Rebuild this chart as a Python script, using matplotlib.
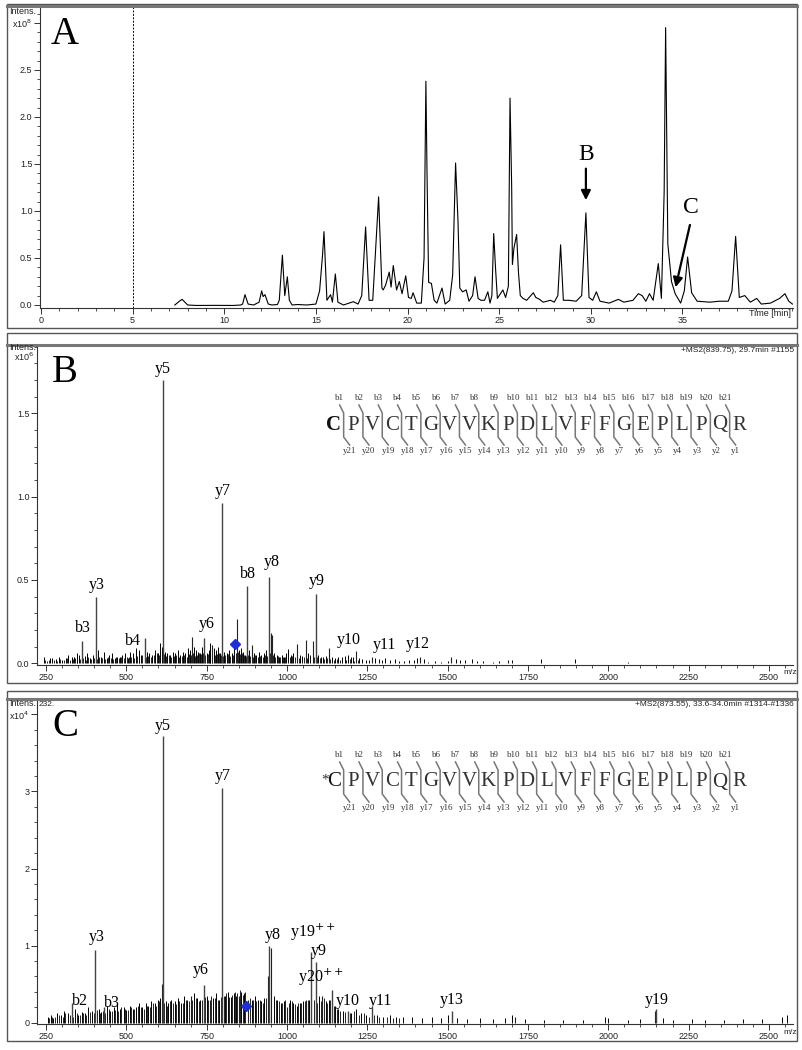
import matplotlib
matplotlib.use('Agg')
import matplotlib.pyplot as plt
from matplotlib.lines import Line2D
from matplotlib.patches import Rectangle
from matplotlib.ticker import MultipleLocator, FixedLocator

# ---------------- DATA ----------------
# Panel A: base peak chromatogram (time in min, intensity x1e8)
chrom_time = [7.30, 7.55, 7.70, 7.85, 8.00, 8.5, 9.5, 10.5, 10.9, 11.0, 11.13, 11.3, 11.6, 11.9,
              12.04, 12.12, 12.22, 12.4, 12.6, 12.9, 13.0, 13.17, 13.3, 13.44, 13.55, 13.7, 14.0,
              14.5, 15.0, 15.2, 15.36, 15.44, 15.6, 15.8, 15.9, 16.06, 16.2, 16.5, 17.04, 17.3,
              17.5, 17.71, 17.9, 18.1, 18.42, 18.6, 18.67, 18.8, 19.0, 19.1, 19.22, 19.4, 19.55,
              19.7, 19.9, 20.05, 20.2, 20.3, 20.5, 20.75, 20.9, 21.0, 21.06, 21.15, 21.3, 21.45,
              21.6, 21.88, 22.05, 22.3, 22.46, 22.62, 22.75, 22.85, 23.0, 23.2, 23.35, 23.55,
              23.68, 23.85, 24.0, 24.2, 24.38, 24.5, 24.6, 24.7, 24.8, 24.9, 25.2, 25.35, 25.5,
              25.59, 25.68, 25.72, 25.8, 25.95, 26.05, 26.15, 26.3, 26.5, 26.86, 27.0, 27.2, 27.4,
              27.8, 28.0, 28.2, 28.35, 28.5, 28.8, 29.2, 29.5, 29.73, 29.9, 30.1, 30.3, 30.5, 31.0,
              31.5, 31.8, 32.3, 32.59, 32.8, 33.0, 33.2, 33.4, 33.68, 33.85, 34.0, 34.08, 34.2,
              34.4, 34.6, 34.9, 35.1, 35.28, 35.5, 35.8, 36.5, 37.0, 37.5, 37.7, 37.9, 38.1, 38.4,
              38.7, 39.05, 39.3, 39.8, 40.3, 40.59, 40.8, 41.0]
chrom_int = [0.0, 0.04, 0.06, 0.03, 0.0, -0.005, -0.004, -0.005, 0.0, 0.01, 0.11, 0.01, 0.0, 0.03,
             0.15, 0.09, 0.11, 0.01, 0.0, 0.005, 0.05, 0.53, 0.10, 0.30, 0.05, 0.0, 0.005,
             0.0, 0.01, 0.15, 0.53, 0.78, 0.05, 0.11, 0.03, 0.33, 0.03, 0.0, 0.035, 0.01,
             0.10, 0.83, 0.05, 0.05, 1.15, 0.18, 0.16, 0.21, 0.35, 0.19, 0.42, 0.16, 0.25,
             0.12, 0.31, 0.08, 0.07, 0.13, 0.02, 0.02, 0.50, 2.38, 1.42, 0.24, 0.23, 0.05,
             0.02, 0.18, 0.01, 0.05, 0.32, 1.51, 0.90, 0.18, 0.14, 0.16, 0.04, 0.10,
             0.30, 0.07, 0.05, 0.05, 0.14, 0.02, 0.10, 0.76, 0.39, 0.07, 0.16, 0.08, 0.20,
             2.20, 1.26, 0.43, 0.60, 0.75, 0.35, 0.10, 0.07, 0.05, 0.13, 0.08, 0.06, 0.03,
             0.05, 0.03, 0.10, 0.64, 0.05, 0.05, 0.04, 0.10, 0.98, 0.08, 0.05, 0.14, 0.04, 0.02,
             0.06, 0.03, 0.05, 0.12, 0.10, 0.04, 0.12, 0.05, 0.44, 0.07, 1.20, 2.95, 0.65,
             0.25, 0.12, 0.02, 0.15, 0.51, 0.13, 0.04, 0.03, 0.04, 0.04, 0.15, 0.73, 0.08, 0.10,
             0.03, 0.07, 0.01, 0.02, 0.07, 0.12, 0.04, 0.01]
time_ticks = [0, 5, 10, 15, 20, 25, 30, 35]
chrom_yticks = [0.0, 0.5, 1.0, 1.5, 2.0, 2.5, 3.0]
chrom_ylabels = ['0.0', '0.5', '1.0', '1.5', '2.0', '2.5', 'x10$^{8}$']

# Panel B: MS2 of 839.75 (m/z, intensity x1e6)
b_lab_mz = [615, 798, 875.6, 944, 1090, 404.6, 362, 557, 742]
b_lab_int = [1.70, 0.96, 0.464, 0.52, 0.416, 0.396, 0.134, 0.154, 0.154]
b_other_mz = [844.5, 954, 950, 703, 891, 767, 1032, 1059, 1080, 1130, 1215, 1265, 1414, 1512, 1689]
b_other_int = [0.264, 0.17, 0.18, 0.16, 0.11, 0.11, 0.115, 0.14, 0.135, 0.09, 0.075, 0.04, 0.035, 0.04, 0.02]
b_noise_mz = [243, 262, 268, 281, 290, 300, 312, 320, 330, 338,
              345, 352, 370, 378, 386, 395, 412, 420, 430, 440,
              447, 455, 465, 472, 480, 488, 497, 505, 512, 520,
              530, 538, 545, 565, 572, 580, 590, 598, 606, 611,
              620, 628, 636, 645, 652, 660, 668, 676, 684, 692,
              698, 710, 716, 724, 730, 736, 750, 756, 762, 772,
              780, 786, 792, 805, 812, 820, 828, 836, 850, 856,
              862, 868, 882, 898, 905, 912, 920, 928, 935, 960,
              968, 975, 983, 990, 998, 1004, 1012, 1020, 1040, 1047,
              1066, 1072, 1098, 1105, 1112, 1120, 1140, 1150, 1160, 1172,
              1180, 1190, 1198, 1205, 1225, 1235, 1245, 1255, 1275, 1285,
              1295, 1305, 1320, 1335, 1350, 1365, 1380, 1395, 1405, 1425,
              1440, 1460, 1480, 1500, 1525, 1540, 1555, 1575, 1590, 1610,
              1640, 1660, 1700, 1790, 1895, 2060]
b_noise_int = [0.035, 0.03, 0.03, 0.025, 0.04, 0.02, 0.03, 0.05, 0.04, 0.035,
               0.06, 0.05, 0.045, 0.06, 0.03, 0.05, 0.08, 0.04, 0.065, 0.03,
               0.05, 0.06, 0.03, 0.04, 0.035, 0.05, 0.06, 0.03, 0.07, 0.06,
               0.09, 0.08, 0.05, 0.07, 0.06, 0.05, 0.08, 0.06, 0.12, 0.10,
               0.07, 0.06, 0.05, 0.07, 0.06, 0.08, 0.05, 0.07, 0.06, 0.09,
               0.08, 0.10, 0.08, 0.07, 0.06, 0.10, 0.06, 0.08, 0.12, 0.09,
               0.08, 0.10, 0.06, 0.07, 0.06, 0.08, 0.06, 0.09, 0.08, 0.09,
               0.07, 0.05, 0.08, 0.06, 0.05, 0.07, 0.05, 0.06, 0.08, 0.06,
               0.05, 0.04, 0.05, 0.04, 0.06, 0.085, 0.05, 0.06, 0.05, 0.045,
               0.06, 0.05, 0.05, 0.04, 0.035, 0.045, 0.04, 0.03, 0.035, 0.04,
               0.045, 0.05, 0.04, 0.035, 0.03, 0.025, 0.02, 0.02, 0.03, 0.025,
               0.02, 0.03, 0.02, 0.025, 0.015, 0.015, 0.02, 0.02, 0.03, 0.025,
               0.01, 0.015, 0.01, 0.012, 0.025, 0.02, 0.02, 0.025, 0.015, 0.012,
               0.01, 0.015, 0.02, 0.025, 0.025, 0.008]
b_fine_mz = [248, 252, 258, 275, 285, 295, 305, 316, 325, 334,
             341, 348, 356, 366, 374, 382, 390, 400, 408, 416,
             425, 435, 444, 451, 460, 468, 476, 484, 492, 501,
             508, 516, 525, 534, 541, 550, 561, 569, 576, 585,
             594, 602, 618, 624, 632, 640, 648, 656, 664, 672,
             680, 688, 695, 702, 706, 713, 720, 727, 733, 740,
             746, 753, 759, 766, 776, 783, 789, 795, 802, 808,
             816, 824, 832, 840, 847, 853, 859, 865, 872, 879,
             886, 895, 902, 909, 916, 924, 931, 939, 947, 957,
             964, 972, 979, 987, 995, 1008, 1016, 1025, 1036, 1052,
             1062, 1085, 1094, 1102, 1116, 1126, 1135, 1145, 1155, 1166,
             1185, 1195, 1210, 1220]
b_fine_int = [0.02, 0.015, 0.02, 0.02, 0.015, 0.025, 0.02, 0.03, 0.02, 0.025,
              0.03, 0.02, 0.025, 0.03, 0.02, 0.035, 0.025, 0.03, 0.025, 0.04,
              0.03, 0.025, 0.035, 0.03, 0.025, 0.04, 0.03, 0.035, 0.03, 0.04,
              0.035, 0.04, 0.03, 0.045, 0.04, 0.05, 0.035, 0.045, 0.04, 0.05,
              0.06, 0.05, 0.055, 0.045, 0.05, 0.04, 0.045, 0.05, 0.04, 0.045,
              0.05, 0.04, 0.055, 0.05, 0.06, 0.045, 0.05, 0.06, 0.055, 0.06,
              0.05, 0.055, 0.06, 0.07, 0.05, 0.055, 0.06, 0.05, 0.045, 0.05,
              0.055, 0.045, 0.05, 0.06, 0.07, 0.055, 0.06, 0.05, 0.045, 0.05,
              0.045, 0.04, 0.05, 0.04, 0.045, 0.04, 0.05, 0.045, 0.06, 0.05,
              0.04, 0.045, 0.035, 0.04, 0.035, 0.04, 0.045, 0.035, 0.03, 0.035,
              0.03, 0.035, 0.04, 0.03, 0.025, 0.03, 0.025, 0.02, 0.025, 0.02,
              0.02, 0.025, 0.015, 0.02]
b_labels = ['y5', 'y7', 'b8', 'y8', 'y9', 'y3', 'b3', 'b4', 'y6', 'y10', 'y11', 'y12']
b_label_mz = [615, 800, 880, 952, 1094, 408, 364, 522, 750, 1191, 1305, 1406]
b_label_int = [1.765, 1.035, 0.535, 0.605, 0.495, 0.469, 0.21, 0.136, 0.234, 0.14, 0.11, 0.114]
b_prec_mz = 839.75
b_prec_int = 0.114

# Panel C: MS2 of 873.55 (m/z, intensity x1e4)
c_lab_mz = [615, 798, 404, 945, 742, 1076, 1090, 1140, 330, 430, 1190, 1265, 1515, 2150]
c_lab_int = [3.72, 3.05, 0.94, 1.00, 0.49, 0.92, 0.79, 0.43, 0.25, 0.20, 0.15, 0.20, 0.15, 0.18]
c_other_mz = [950, 940, 610, 700, 760, 850, 880, 1000, 1060, 1110, 2145, 1710]
c_other_int = [0.97, 0.60, 0.50, 0.35, 0.30, 0.35, 0.30, 0.20, 0.30, 0.35, 0.15, 0.08]
c_noise_mz = [255, 265, 272, 285, 298, 305, 318, 340, 350, 362,
              372, 380, 392, 415, 422, 440, 450, 462, 470, 480,
              492, 500, 510, 520, 530, 540, 550, 560, 568, 578,
              588, 598, 605, 622, 630, 640, 650, 660, 670, 680,
              690, 712, 720, 730, 750, 770, 780, 790, 806, 815,
              825, 835, 842, 858, 866, 890, 900, 910, 920, 930,
              960, 970, 980, 990, 1010, 1020, 1030, 1040, 1050, 1068,
              1100, 1120, 1130, 1150, 1160, 1175, 1200, 1215, 1230, 1245,
              1280, 1300, 1320, 1340, 1360, 1390, 1420, 1450, 1480, 1500,
              1530, 1560, 1600, 1640, 1680, 1700, 1740, 1800, 1860, 1920,
              1990, 2000, 2060, 2100, 2170, 2200, 2260, 2300, 2360, 2420,
              2480, 2540, 2555]
c_noise_int = [0.08, 0.10, 0.06, 0.12, 0.10, 0.15, 0.12, 0.18, 0.10, 0.14,
               0.12, 0.20, 0.15, 0.18, 0.14, 0.22, 0.15, 0.20, 0.25, 0.18,
               0.20, 0.16, 0.22, 0.18, 0.20, 0.25, 0.20, 0.25, 0.22, 0.28,
               0.25, 0.30, 0.32, 0.28, 0.25, 0.30, 0.28, 0.32, 0.25, 0.35,
               0.30, 0.38, 0.32, 0.30, 0.35, 0.32, 0.38, 0.30, 0.35, 0.40,
               0.33, 0.38, 0.35, 0.40, 0.38, 0.30, 0.35, 0.30, 0.28, 0.32,
               0.35, 0.30, 0.25, 0.28, 0.30, 0.25, 0.22, 0.25, 0.28, 0.30,
               0.35, 0.28, 0.30, 0.22, 0.18, 0.15, 0.12, 0.18, 0.12, 0.10,
               0.10, 0.08, 0.10, 0.08, 0.07, 0.08, 0.06, 0.07, 0.06, 0.10,
               0.06, 0.05, 0.06, 0.05, 0.06, 0.10, 0.05, 0.04, 0.04, 0.04,
               0.08, 0.06, 0.04, 0.05, 0.06, 0.04, 0.05, 0.04, 0.04, 0.05,
               0.05, 0.08, 0.10]
c_fine_mz = [260, 268, 278, 290, 302, 310, 325, 335, 345, 356,
             366, 376, 386, 398, 410, 418, 426, 435, 445, 455,
             466, 475, 485, 496, 505, 515, 525, 535, 545, 555,
             564, 573, 583, 593, 602, 618, 626, 635, 645, 655,
             665, 675, 685, 695, 705, 716, 725, 735, 746, 755,
             765, 775, 785, 795, 803, 811, 820, 830, 839, 846,
             854, 862, 870, 885, 895, 905, 915, 925, 935, 965,
             975, 985, 995, 1005, 1015, 1025, 1035, 1045, 1055, 1065,
             1085, 1095, 1105, 1115, 1125, 1135, 1145, 1155, 1165, 1180,
             1195, 1210, 1225, 1240, 1255, 1270, 1285, 1310, 1330, 1350]
c_fine_int = [0.06, 0.08, 0.07, 0.10, 0.08, 0.12, 0.10, 0.08, 0.12, 0.10,
              0.12, 0.10, 0.14, 0.12, 0.16, 0.12, 0.15, 0.13, 0.18, 0.15,
              0.17, 0.15, 0.20, 0.18, 0.16, 0.20, 0.18, 0.22, 0.20, 0.18,
              0.22, 0.20, 0.25, 0.22, 0.28, 0.25, 0.22, 0.28, 0.26, 0.24,
              0.28, 0.25, 0.30, 0.28, 0.30, 0.32, 0.28, 0.30, 0.33, 0.30,
              0.35, 0.32, 0.30, 0.33, 0.35, 0.38, 0.33, 0.36, 0.40, 0.38,
              0.42, 0.36, 0.40, 0.32, 0.30, 0.28, 0.30, 0.26, 0.32, 0.30,
              0.28, 0.25, 0.30, 0.26, 0.28, 0.24, 0.26, 0.25, 0.28, 0.30,
              0.30, 0.26, 0.28, 0.32, 0.25, 0.30, 0.22, 0.18, 0.15, 0.14,
              0.12, 0.15, 0.10, 0.12, 0.08, 0.10, 0.08, 0.07, 0.06, 0.06]
c_labels = ['y5', 'y7', 'y3', 'y8', 'y6', 'y19$^{++}$', 'y9', 'y20$^{++}$', 'b2', 'b3',
            'y10', 'y11', 'y13', 'y19']
c_label_mz = [615, 800, 408, 955, 732, 1080, 1100, 1105, 355, 455, 1190, 1292, 1512, 2150]
c_label_int = [3.85, 3.20, 1.11, 1.14, 0.68, 1.17, 0.93, 0.59, 0.28, 0.25, 0.28, 0.28, 0.30, 0.29]
c_prec_mz = 873.55
c_prec_int = 0.22

mz_ticks = [250, 500, 750, 1000, 1250, 1500, 1750, 2000, 2250, 2500]

residues = ['C', 'P', 'V', 'C', 'T', 'G', 'V', 'V', 'K', 'P', 'D',
            'L', 'V', 'F', 'F', 'G', 'E', 'P', 'L', 'P', 'Q', 'R']

# ---------------- LAYOUT ----------------
W, H = 803, 1050
fig = plt.figure(figsize=(W / 100, H / 100), dpi=100)
SANS = ['Liberation Sans', 'DejaVu Sans']
SERIF = ['Liberation Serif', 'DejaVu Serif']
TC = '#333333'


def fx(x):
    return x / W


def fy(y):
    return 1 - y / H


def axes_px(l, t, r, b):
    return fig.add_axes([l / W, 1 - b / H, (r - l) / W, (b - t) / H])


def style(ax):
    for s in ['top', 'right']:
        ax.spines[s].set_visible(False)
    for s in ['left', 'bottom']:
        ax.spines[s].set_color(TC)
        ax.spines[s].set_linewidth(0.8)
    ax.tick_params(which='major', direction='out', length=4, width=0.7, color=TC,
                   labelsize=6.5, labelcolor='#222222', pad=1.5)
    ax.tick_params(which='minor', direction='out', length=2.5, width=0.6, color=TC)
    for lab in ax.get_xticklabels() + ax.get_yticklabels():
        lab.set_family(SANS)
    ax.patch.set_alpha(0)


def frame(top, bottom, bar_y):
    fig.add_artist(Rectangle((fx(7), fy(bottom)), fx(797) - fx(7), fy(top) - fy(bottom),
                             transform=fig.transFigure, fill=False, edgecolor='#555555', lw=1.0))
    fig.add_artist(Line2D([fx(7), fx(797)], [fy(bar_y), fy(bar_y)], transform=fig.transFigure,
                          color='#777777', lw=2.2))


frame(4, 328, 5.5)
frame(333, 683, 345)
frame(691, 1041, 699)

# ---- Panel A ----
axA = axes_px(40, 6, 793, 308)
axA.plot(chrom_time, chrom_int, color='black', lw=0.8)
axA.set_xlim(-0.055, 41.03)
axA.set_ylim(-0.032, 3.18)
axA.axvline(5, color='black', lw=0.7, ls=(0, (2, 1.5)))
axA.xaxis.set_major_locator(FixedLocator(time_ticks))
axA.xaxis.set_minor_locator(MultipleLocator(1))
axA.yaxis.set_major_locator(FixedLocator(chrom_yticks))
axA.set_yticklabels(chrom_ylabels)
axA.yaxis.set_minor_locator(MultipleLocator(0.1))
style(axA)
axA.annotate('', xy=(29.73, 1.085), xytext=(29.73, 1.48),
             arrowprops=dict(arrowstyle='-|>', color='black', lw=1.6, mutation_scale=14))
axA.text(29.73, 1.60, 'B', ha='center', va='center', fontsize=17, family=SERIF)
axA.annotate('', xy=(34.59, 0.16), xytext=(35.44, 0.88),
             arrowprops=dict(arrowstyle='-|>', color='black', lw=1.6, mutation_scale=14))
axA.text(35.44, 1.04, 'C', ha='center', va='center', fontsize=17, family=SERIF)
fig.text(fx(791), fy(314), 'Time [min]', ha='right', va='center', fontsize=6.5, family=SANS, color='#222222')
fig.text(fx(36), fy(12), 'Intens.', ha='right', va='center', fontsize=6.5, family=SANS, color='#222222')
fig.text(fx(65), fy(35), 'A', ha='center', va='center', fontsize=28, family=SERIF)


def spectrum(ax, lab_mz, lab_int, oth_mz, oth_int, noi_mz, noi_int, fine_mz, fine_int):
    ax.vlines(fine_mz, 0, fine_int, color='black', lw=0.6)
    ax.vlines(noi_mz, 0, noi_int, color='black', lw=0.7)
    ax.vlines(oth_mz, 0, oth_int, color='#222222', lw=0.8)
    ax.vlines(lab_mz, 0, lab_int, color='#444444', lw=1.0)


def sequence(yl, first_star):
    x0, dx = 334.0, 19.3
    for i, r in enumerate(residues):
        fig.text(fx(x0 + i * dx), fy(yl), r, ha='center', va='center', fontsize=15,
                 family=SERIF, color='#111111' if i == 0 else '#333333',
                 fontweight='bold' if (i == 0 and not first_star) else 'normal')
    if first_star:
        fig.text(fx(x0 - 9), fy(yl - 2), '*', ha='center', va='center', fontsize=11,
                 family=SERIF, color='#333333')
    for i in range(21):
        xs = x0 + (i + 0.5) * dx
        fig.add_artist(Line2D([fx(xs - 4), fx(xs), fx(xs), fx(xs + 6)],
                              [fy(yl - 20), fy(yl - 12), fy(yl + 12), fy(yl + 20)],
                              transform=fig.transFigure, color='#777777', lw=1.1))
        fig.text(fx(xs - 4), fy(yl - 27), 'b%d' % (i + 1), ha='center', va='center',
                 fontsize=6.5, family=SERIF, color='#333333')
        fig.text(fx(xs + 6), fy(yl + 26), 'y%d' % (21 - i), ha='center', va='center',
                 fontsize=6.5, family=SERIF, color='#333333')


# ---- Panel B ----
axB = axes_px(37, 345, 793, 665)
spectrum(axB, b_lab_mz, b_lab_int, b_other_mz, b_other_int, b_noise_mz, b_noise_int,
         b_fine_mz, b_fine_int)
axB.plot([b_prec_mz], [b_prec_int], marker='D', color='#1f2fd0', ms=5, ls='none')
axB.set_xlim(222, 2575)
axB.set_ylim(-0.01, 1.91)
axB.xaxis.set_major_locator(FixedLocator(mz_ticks))
axB.xaxis.set_minor_locator(MultipleLocator(50))
axB.yaxis.set_major_locator(FixedLocator([0.0, 0.5, 1.0, 1.5]))
axB.set_yticklabels(['0.0', '0.5', '1.0', '1.5'])
axB.yaxis.set_minor_locator(MultipleLocator(0.1))
style(axB)
for t, m, v in zip(b_labels, b_label_mz, b_label_int):
    axB.text(m, v, t, ha='center', va='center', fontsize=11.5, family=SERIF)
fig.text(fx(783), fy(673), 'm/z', ha='left', va='center', fontsize=6, family=SANS, color='#222222')
fig.text(fx(36), fy(347), 'Intens.', ha='right', va='center', fontsize=6.5, family=SANS, color='#222222')
fig.text(fx(34), fy(357), 'x10$^{6}$', ha='right', va='center', fontsize=6.5, family=SANS, color='#222222')
fig.text(fx(794), fy(351), '+MS2(839.75), 29.7min #1155', ha='right', va='center', fontsize=6,
         family=SANS, color='#222222')
fig.text(fx(65), fy(373), 'B', ha='center', va='center', fontsize=28, family=SERIF)
sequence(425, False)

# ---- Panel C ----
axC = axes_px(37, 699, 793, 1024)
spectrum(axC, c_lab_mz, c_lab_int, c_other_mz, c_other_int, c_noise_mz, c_noise_int,
         c_fine_mz, c_fine_int)
axC.plot([c_prec_mz], [c_prec_int], marker='D', color='#1f2fd0', ms=5, ls='none')
axC.set_xlim(222, 2575)
axC.set_ylim(-0.017, 4.2)
axC.xaxis.set_major_locator(FixedLocator(mz_ticks))
axC.xaxis.set_minor_locator(MultipleLocator(50))
axC.yaxis.set_major_locator(FixedLocator([0, 1, 2, 3, 4]))
axC.set_yticklabels(['0', '1', '2', '3', 'x10$^{4}$'])
axC.yaxis.set_minor_locator(MultipleLocator(0.2))
style(axC)
for t, m, v in zip(c_labels, c_label_mz, c_label_int):
    axC.text(m, v, t, ha='center', va='center', fontsize=11.5, family=SERIF)
fig.text(fx(783), fy(1033), 'm/z', ha='left', va='center', fontsize=6, family=SANS, color='#222222')
fig.text(fx(36), fy(704), 'Intens.', ha='right', va='center', fontsize=6.5, family=SANS, color='#222222')
fig.text(fx(39), fy(705), '232.', ha='left', va='center', fontsize=6, family=SANS, color='#222222')
fig.text(fx(794), fy(705), '+MS2(873.55), 33.6-34.0min #1314-#1336', ha='right', va='center',
         fontsize=6, family=SANS, color='#222222')
fig.text(fx(65), fy(727), 'C', ha='center', va='center', fontsize=28, family=SERIF)
sequence(782, True)

fig.savefig('out.png', dpi=100)
